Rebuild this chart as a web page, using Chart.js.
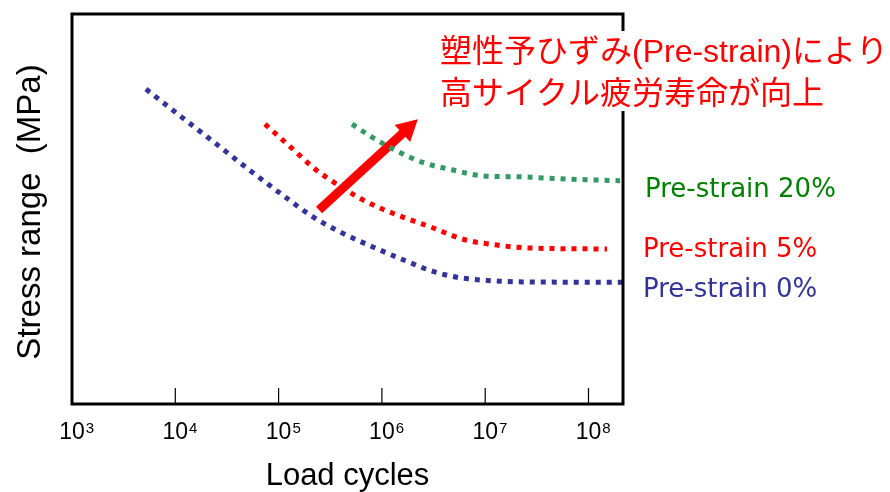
<!DOCTYPE html>
<html>
<head>
<meta charset="utf-8">
<script src="https://cdn.jsdelivr.net/npm/chart.js@4"></script>
<style>
  body { margin: 0; background: #fff; }
  #wrap { width: 890px; height: 492px; }
</style>
</head>
<body>
<div id="wrap"><canvas id="snChart" width="890" height="492"></canvas></div>
<script>
// S-N curves (log load cycles vs stress range) for three pre-strain levels
const cycles0  = [5200, 11600, 25400, 55200, 120500, 215000, 420000, 820000, 1.6e6, 3.13e6, 5.33e6, 1.39e7, 4.95e7, 2.11e8];
const stress0  = [323, 294, 266, 238, 211, 192, 175, 161, 148, 136, 130, 126, 125, 125];

const cycles5  = [73800, 129000, 225000, 336000, 614000, 959000, 1.57e6, 3.06e6, 6.1e6, 1.3e7, 2.72e7, 1.51e8];
const stress5  = [287, 264, 241, 228, 211, 201, 192, 181, 169, 163, 160, 159];

const cycles20 = [514000, 767000, 1.2e6, 2.44e6, 4.88e6, 9.53e6, 2.17e7, 5.3e7, 2.02e8];
const stress20 = [287, 275, 263, 248, 240, 234, 233, 231, 229];

const seriesNames = ['Pre-strain 0%', 'Pre-strain 5%', 'Pre-strain 20%'];
const decades = [3, 4, 5, 6, 7, 8];

const noteLines = ['塑性予ひずみ(Pre-strain)により', '高サイクル疲労寿命が向上'];
// arrow in data coordinates: [cycles, stress]
const arrowFrom = [246000, 199];
const arrowTo = [2.23e6, 292];

const toPoints = (xs, ys) => xs.map((x, i) => ({ x: x, y: ys[i] }));

function dotted(label, xs, ys, color) {
  return {
    label: label,
    data: toPoints(xs, ys),
    borderColor: color,
    borderWidth: 5,
    borderDash: [5, 6],
    borderCapStyle: 'butt',
    pointRadius: 0,
    fill: false,
    cubicInterpolationMode: 'monotone'
  };
}

const arrowPlugin = {
  id: 'arrow',
  beforeDatasetsDraw(chart) {
    const { ctx, scales: { x, y } } = chart;
    const x0 = x.getPixelForValue(arrowFrom[0]), y0 = y.getPixelForValue(arrowFrom[1]);
    const x1 = x.getPixelForValue(arrowTo[0]), y1 = y.getPixelForValue(arrowTo[1]);
    const ang = Math.atan2(y1 - y0, x1 - x0);
    const headLen = 21, headW = 11.5;
    const bx = x1 - headLen * Math.cos(ang), by = y1 - headLen * Math.sin(ang);
    ctx.save();
    ctx.strokeStyle = '#ff0000';
    ctx.fillStyle = '#ff0000';
    ctx.lineWidth = 9;
    ctx.beginPath();
    ctx.moveTo(x0, y0);
    ctx.lineTo(bx + Math.cos(ang), by + Math.sin(ang));
    ctx.stroke();
    ctx.beginPath();
    ctx.moveTo(x1, y1);
    ctx.lineTo(bx + headW * Math.sin(ang), by - headW * Math.cos(ang));
    ctx.lineTo(bx - headW * Math.sin(ang), by + headW * Math.cos(ang));
    ctx.closePath();
    ctx.fill();
    ctx.restore();
  }
};

const framePlugin = {
  id: 'frame',
  afterDraw(chart) {
    const { ctx, chartArea: a, scales: { x } } = chart;
    ctx.save();

    // box around the plot
    ctx.strokeStyle = '#000';
    ctx.lineWidth = 3;
    ctx.strokeRect(a.left, a.top, a.right - a.left, a.bottom - a.top);

    // inward ticks + 10^n labels
    ctx.lineWidth = 1.2;
    ctx.fillStyle = '#000';
    decades.forEach(e => {
      const px = x.getPixelForValue(Math.pow(10, e));
      if (e > 3) {
        ctx.beginPath();
        ctx.moveTo(px, a.bottom);
        ctx.lineTo(px, a.bottom - 16);
        ctx.stroke();
      }
      ctx.font = '23px "Liberation Sans", Arial, sans-serif';
      ctx.textAlign = 'center';
      ctx.textBaseline = 'alphabetic';
      ctx.fillText('10', px, 439);
      const w = ctx.measureText('10').width;
      ctx.font = '15px "Liberation Sans", Arial, sans-serif';
      ctx.textAlign = 'left';
      ctx.fillText(String(e), px + w / 2 + 1, 433);
    });

    // axis titles
    ctx.font = '31px "Liberation Sans", Arial, sans-serif';
    ctx.textAlign = 'center';
    ctx.fillText('Load cycles', (a.left + a.right) / 2, 485);
    ctx.save();
    ctx.translate(40, 212);
    ctx.rotate(-Math.PI / 2);
    ctx.font = '33px "Liberation Sans", Arial, sans-serif';
    ctx.fillText('Stress range  (MPa)', 0, 0);
    ctx.restore();

    // series labels at the right end
    ctx.font = '26px "DejaVu Sans", sans-serif';
    ctx.textAlign = 'left';
    ctx.fillStyle = '#008000';
    ctx.fillText(seriesNames[2], 645, 197);
    ctx.fillStyle = '#ff0000';
    ctx.fillText(seriesNames[1], 643, 257);
    ctx.fillStyle = '#333399';
    ctx.fillText(seriesNames[0], 643, 297);

    // note box over the top-right corner
    ctx.fillStyle = '#fff';
    ctx.fillRect(436, 31, 454, 80);
    ctx.fillStyle = '#ff0000';
    ctx.font = '32px "Liberation Sans", "Noto Sans CJK JP", sans-serif';
    ctx.textBaseline = 'middle';
    ctx.fillText(noteLines[0], 440, 53);
    ctx.fillText(noteLines[1], 440, 95);
    ctx.restore();
  }
};

const ctx = document.getElementById('snChart').getContext('2d');
const snChart = new Chart(ctx, {
  type: 'line',
  data: {
    datasets: [
      dotted(seriesNames[0], cycles0, stress0, '#333399'),
      dotted(seriesNames[1], cycles5, stress5, '#ff0000'),
      dotted(seriesNames[2], cycles20, stress20, '#339966')
    ]
  },
  options: {
    responsive: false,
    animation: false,
    devicePixelRatio: 1,
    layout: { padding: { left: 72, right: 267, top: 14, bottom: 88 } },
    plugins: { legend: { display: false }, tooltip: { enabled: false } },
    scales: {
      x: { type: 'logarithmic', min: 1000, max: Math.pow(10, 8.334), display: false },
      y: { type: 'linear', min: 0, max: 400, display: false }
    }
  },
  plugins: [arrowPlugin, framePlugin]
});
</script>
</body>
</html>
